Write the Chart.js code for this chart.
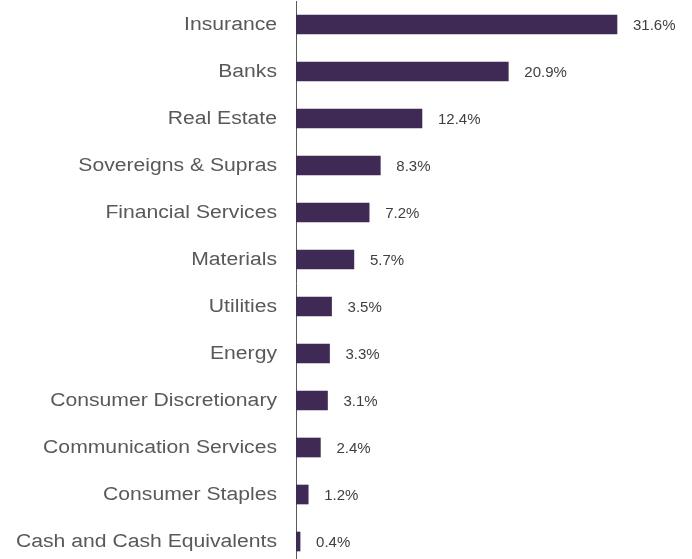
<!DOCTYPE html>
<html><head><meta charset="utf-8">
<script src="https://cdn.jsdelivr.net/npm/chart.js@4"></script>
<style>html,body{margin:0;padding:0;overflow:hidden;background:#fff}canvas{display:block}</style>
</head><body><canvas id="c" width="692" height="566" style="width:692px;height:566px"></canvas>
<script>
const categories = ["Insurance","Banks","Real Estate","Sovereigns & Supras","Financial Services","Materials","Utilities","Energy","Consumer Discretionary","Communication Services","Consumer Staples","Cash and Cash Equivalents"];
const values = [31.6,20.9,12.4,8.3,7.2,5.7,3.5,3.3,3.1,2.4,1.2,0.4];

const FONT = '"Liberation Sans", Arial, sans-serif';

const labelsPlugin = {
  id:'labelsPlugin',
  afterDatasetsDraw(chart){
    const ctx = chart.ctx;
    const meta = chart.getDatasetMeta(0);
    const yScale = chart.scales.y;
    ctx.save();
    ctx.textBaseline = 'middle';
    // value labels
    ctx.font = '15px ' + FONT;
    ctx.fillStyle = '#404040';
    ctx.textAlign = 'left';
    meta.data.forEach((bar,i)=>{
      ctx.fillText(values[i].toFixed(1)+'%', bar.x + 16, bar.y + 1);
    });
    // category labels (slightly wide, like the reference)
    ctx.font = '18px ' + FONT;
    ctx.fillStyle = '#595959';
    ctx.textAlign = 'right';
    categories.forEach((c,i)=>{
      const y = yScale.getPixelForValue(i);
      ctx.save();
      ctx.translate(chart.chartArea.left - 19, y + 1);
      ctx.scale(1.175, 1);
      ctx.fillText(c, 0, 0);
      ctx.restore();
    });
    ctx.restore();
  }
};

new Chart(document.getElementById('c'), {
  type:'bar',
  data:{labels:categories, datasets:[{data:values, backgroundColor:'#3f2a56', borderWidth:0, barThickness:19}]},
  options:{
    indexAxis:'y', responsive:false, animation:false, devicePixelRatio:1,
    layout:{padding:{top:1,bottom:1,left:296,right:10}},
    plugins:{legend:{display:false}, tooltip:{enabled:false}},
    scales:{
      x:{min:0,max:38,display:false},
      y:{
        grid:{display:false, drawTicks:false},
        border:{display:true,color:'#595959',width:1},
        ticks:{display:false}
      }
    }
  },
  plugins:[labelsPlugin]
});
</script></body></html>
